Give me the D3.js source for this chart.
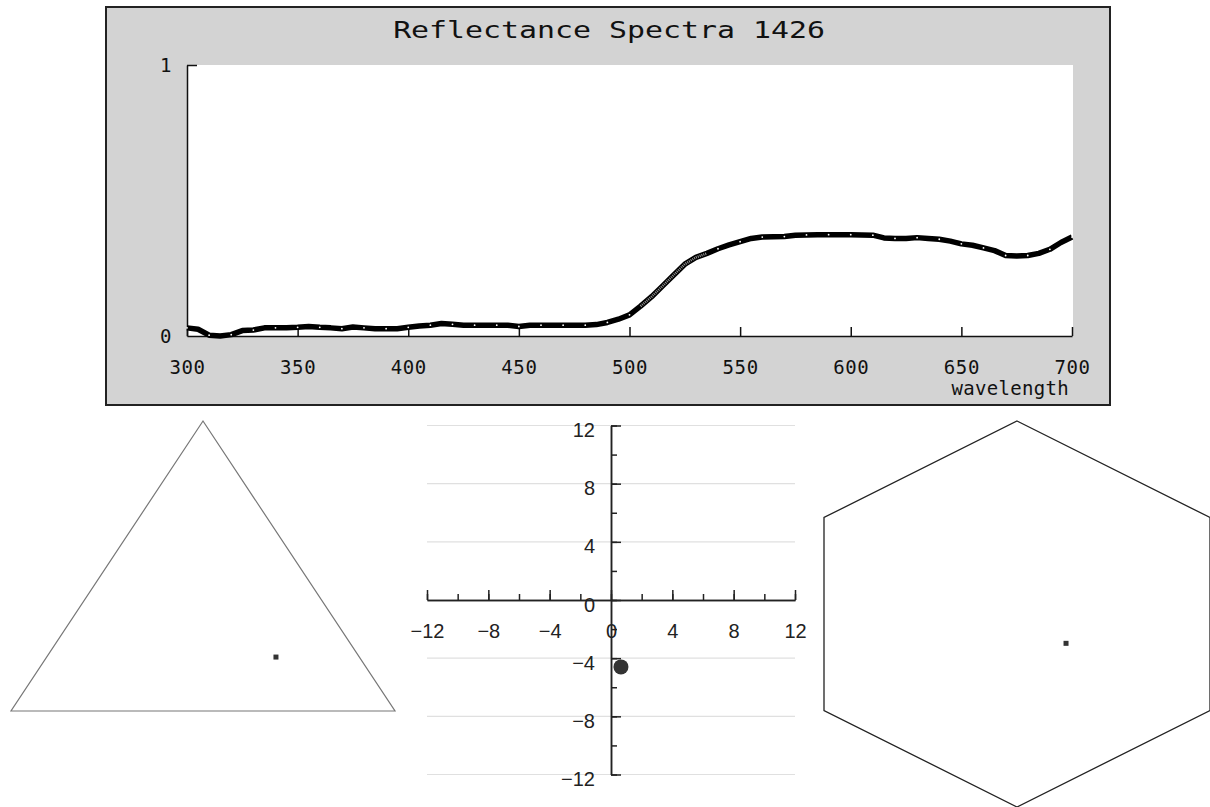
<!DOCTYPE html>
<html>
<head>
<meta charset="utf-8">
<script src="https://cdn.jsdelivr.net/npm/d3@7"></script>
<style>
  body { margin: 0; background: #fff; }
  svg { display: block; }
  .mono text { font-family: "DejaVu Sans Mono", monospace; fill: #111; }
  .sans text { font-family: "Liberation Sans", Arial, sans-serif; fill: #222; }
</style>
</head>
<body>
<div id="chart"></div>
<script>
// spectrum, sampled every 5 nm
const wavelengths = d3.range(300, 701, 5);
const reflectance = [
  0.030, 0.025, 0.003, 0.000, 0.005, 0.020, 0.022, 0.030, 0.030, 0.030,
  0.032, 0.035, 0.032, 0.030, 0.027, 0.033, 0.030, 0.027, 0.027, 0.027,
  0.032, 0.037, 0.040, 0.046, 0.043, 0.040, 0.040, 0.040, 0.040, 0.040,
  0.035, 0.040, 0.040, 0.040, 0.040, 0.040, 0.040, 0.042, 0.050, 0.062,
  0.078, 0.110, 0.145, 0.185, 0.225, 0.265, 0.290, 0.305, 0.322, 0.336,
  0.348, 0.360, 0.365, 0.366, 0.367, 0.372, 0.373, 0.374, 0.374, 0.374,
  0.374, 0.373, 0.372, 0.362, 0.360, 0.360, 0.363, 0.360, 0.357, 0.350,
  0.340, 0.335, 0.325, 0.315, 0.297, 0.295, 0.297, 0.305, 0.320, 0.345,
  0.365
];
const specTitle = "Reflectance Spectra 1426";
const specXTicks = [300, 350, 400, 450, 500, 550, 600, 650, 700];
const specYTicks = [0, 1];

// colour point in the scatter
const scatterPoint = [0.65, -4.6];
const scatterMajor = [-12, -8, -4, 0, 4, 8, 12];
const scatterMinor = d3.range(-12, 13, 2);
const scatterGrid = [-12, -8, -4, 4, 8, 12];

// ternary point (a, b, c)
const ternaryPoint = [0.217, 0.597, 0.186];
// hexagon frame in unit coordinates and point
const hexVertices = [[0, 1], [1, 0.5], [1, -0.5], [0, -1], [-1, -0.5], [-1, 0.5]];
const hexPoint = [0.254, -0.152];

const svg = d3.select("#chart").append("svg")
    .attr("width", 1210)
    .attr("height", 807);

// ---------- spectrum panel ----------
const spec = svg.append("g").attr("class", "mono");
spec.append("rect")
    .attr("x", 106).attr("y", 7)
    .attr("width", 1004).attr("height", 398)
    .attr("fill", "#d3d3d3")
    .attr("stroke", "#222")
    .attr("stroke-width", 2);

const x = d3.scaleLinear().domain([300, 700]).range([187, 1072]);
const y = d3.scaleLinear().domain([0, 1]).range([336, 65]);

spec.append("rect")
    .attr("x", x(300)).attr("y", y(1))
    .attr("width", x(700) - x(300) + 1)
    .attr("height", y(0) - y(1))
    .attr("fill", "#fff");

// title glyphs are wide in the original, so stretch horizontally
spec.append("text")
    .attr("transform", "translate(609,38) scale(1.3,1)")
    .attr("text-anchor", "middle")
    .attr("font-size", 23)
    .text(specTitle);

const xAxis = spec.append("g")
    .attr("transform", `translate(0,${y(0)})`)
    .call(d3.axisBottom(x).tickValues(specXTicks).tickSizeInner(-9).tickSizeOuter(0).tickPadding(25));
const yAxis = spec.append("g")
    .attr("transform", `translate(${x(300)},0)`)
    .call(d3.axisLeft(y).tickValues(specYTicks).tickSizeInner(-10).tickSizeOuter(0).tickPadding(15).tickFormat(d3.format("d")));
[xAxis, yAxis].forEach(a => {
  a.selectAll("path, line").attr("stroke", "#111").attr("stroke-width", 1.5);
  a.selectAll("text").attr("font-size", 19).attr("letter-spacing", 0.6)
      .attr("font-family", "DejaVu Sans Mono, monospace").attr("fill", "#222");
});
yAxis.selectAll(".tick").filter(d => d === 0).select("line").remove();

spec.append("text")
    .attr("x", 1069).attr("y", 395)
    .attr("text-anchor", "end")
    .attr("font-size", 19)
    .attr("letter-spacing", 0.3)
    .attr("fill", "#222")
    .text("wavelength");

const specData = wavelengths.map((w, i) => [w, reflectance[i]]);
const line = d3.line().x(d => x(d[0])).y(d => y(d[1]));
spec.append("path")
    .datum(specData)
    .attr("d", line)
    .attr("fill", "none")
    .attr("stroke", "#000")
    .attr("stroke-width", 5.5)
    .attr("stroke-linejoin", "round");
spec.append("path")
    .datum(specData.filter(d => d[0] >= 505 && d[0] <= 535))
    .attr("d", line)
    .attr("fill", "none")
    .attr("stroke", "#9a9a9a")
    .attr("stroke-width", 2.5)
    .attr("stroke-dasharray", "1 1");
spec.selectAll("circle.mark")
    .data(specData.filter(d => d[0] % 10 === 0 && (d[0] < 505 || d[0] > 535)))
    .join("circle")
    .attr("class", "mark")
    .attr("cx", d => x(d[0]))
    .attr("cy", d => y(d[1]))
    .attr("r", 0.9)
    .attr("fill", "#fff");

// ---------- ternary panel ----------
const tx = d3.scaleLinear().domain([0, 1]).range([11, 395]);
const ty = d3.scaleLinear().domain([0, 1]).range([711, 421]);
const tri = [[0, 0], [1, 0], [0.5, 1]];
svg.append("path")
    .attr("d", d3.line().x(d => tx(d[0])).y(d => ty(d[1]))(tri) + "Z")
    .attr("fill", "none")
    .attr("stroke", "#777")
    .attr("stroke-width", 1.2);
const tp = [ternaryPoint[1] + ternaryPoint[2] / 2, ternaryPoint[2]];
svg.append("rect")
    .attr("x", tx(tp[0]) - 2.5).attr("y", ty(tp[1]) - 2.5)
    .attr("width", 5).attr("height", 5)
    .attr("fill", "#333");

// ---------- scatter panel ----------
const sx = d3.scaleLinear().domain([-12, 12]).range([427, 795]);
const sy = d3.scaleLinear().domain([-12, 12]).range([774.5, 425.5]);
const sc = svg.append("g").attr("class", "sans");

sc.selectAll("line.grid")
    .data(scatterGrid)
    .join("line")
    .attr("class", "grid")
    .attr("x1", sx(-12)).attr("x2", sx(12))
    .attr("y1", d => sy(d)).attr("y2", d => sy(d))
    .attr("stroke", "#e0e0e0")
    .attr("stroke-width", 1.2);

const fmt = d3.format("d");
const sxMinor = sc.append("g").attr("transform", `translate(0,${sy(0)})`)
    .call(d3.axisBottom(sx).tickValues(scatterMinor).tickSizeInner(-6).tickSizeOuter(0).tickFormat(""));
const sxMajor = sc.append("g").attr("transform", `translate(0,${sy(0)})`)
    .call(d3.axisBottom(sx).tickValues(scatterMajor).tickSizeInner(-10).tickSizeOuter(0).tickPadding(24).tickFormat(fmt));
const syMinor = sc.append("g").attr("transform", `translate(${sx(0)},0)`)
    .call(d3.axisLeft(sy).tickValues(scatterMinor).tickSizeInner(-6).tickSizeOuter(0).tickFormat(""));
const syMajor = sc.append("g").attr("transform", `translate(${sx(0)},0)`)
    .call(d3.axisLeft(sy).tickValues(scatterMajor).tickSizeInner(-10).tickSizeOuter(0).tickPadding(16).tickFormat(fmt));
[sxMinor, sxMajor, syMinor, syMajor].forEach(a => {
  a.selectAll("path, line").attr("stroke", "#222").attr("stroke-width", 1.5);
  a.selectAll("text").attr("font-size", 20).attr("fill", "#222")
      .attr("font-family", "Liberation Sans, Arial, sans-serif");
});
syMajor.selectAll("text").attr("dy", "0.55em");

sc.append("circle")
    .attr("cx", sx(scatterPoint[0]))
    .attr("cy", sy(scatterPoint[1]))
    .attr("r", 7.5)
    .attr("fill", "#333");

// ---------- hexagon panel ----------
const hx = d3.scaleLinear().domain([-1, 1]).range([824, 1210]);
const hy = d3.scaleLinear().domain([-1, 1]).range([807, 421]);
svg.append("path")
    .attr("d", d3.line().x(d => hx(d[0])).y(d => hy(d[1]))(hexVertices) + "Z")
    .attr("fill", "none")
    .attr("stroke", "#222")
    .attr("stroke-width", 1.3);
svg.append("rect")
    .attr("x", hx(hexPoint[0]) - 2.5).attr("y", hy(hexPoint[1]) - 2.5)
    .attr("width", 5).attr("height", 5)
    .attr("fill", "#333");
</script>
</body>
</html>
